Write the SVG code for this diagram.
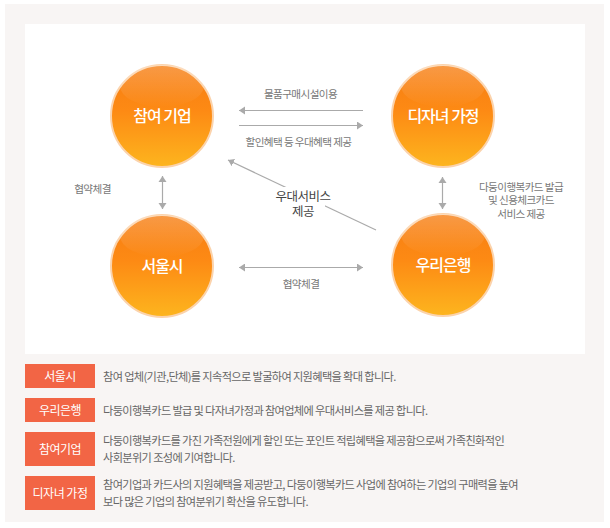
<svg xmlns="http://www.w3.org/2000/svg" width="610" height="528" viewBox="0 0 610 528">
<style>
text{font-family:"Noto Sans CJK KR","Noto Sans",sans-serif}
.c{fill:url(#orb);stroke:#fbd3ac;stroke-width:2}
.g{fill:url(#gl)}
.n{font-size:16px;font-weight:500;fill:#fff;text-anchor:middle;letter-spacing:-1px}
.l{font-size:10.6px;fill:#777;text-anchor:middle;letter-spacing:-.6px}
.m{font-size:12.5px;fill:#444;text-anchor:middle;letter-spacing:-.5px}
.t{font-size:12px;fill:#fff;text-anchor:middle;letter-spacing:-.5px}
.b{fill:#f26545}
.d{font-size:11.2px;fill:#666;letter-spacing:-.64px}
.a{stroke:#aaa;stroke-width:1.2;fill:none;marker-end:url(#h)}
.ab{stroke:#aaa;stroke-width:1.2;fill:none;marker-end:url(#h);marker-start:url(#hs)}
</style>
<defs>
<linearGradient id="orb" x1="0" y1="0" x2="0" y2="1"><stop offset="0" stop-color="#f67d12"/><stop offset=".45" stop-color="#fd8a14"/><stop offset="1" stop-color="#fdb51e"/></linearGradient>
<linearGradient id="gl" x1="0" y1="0" x2="0" y2="1"><stop offset="0" stop-color="#fff" stop-opacity=".22"/><stop offset="1" stop-color="#fff" stop-opacity="0"/></linearGradient>
<marker id="h" markerUnits="userSpaceOnUse" markerWidth="8" markerHeight="10" refX="6" refY="4" orient="auto"><path d="M0 0L6 4L0 8z" fill="#aaa"/></marker>
<marker id="hs" markerUnits="userSpaceOnUse" markerWidth="8" markerHeight="10" refX="0" refY="4" orient="auto"><path d="M6 0L0 4L6 8z" fill="#aaa"/></marker>
</defs>
<rect x="5" y="4" width="599" height="518" fill="#f8f5f4"/>
<rect x="25" y="24" width="560" height="330" fill="#fff"/>
<g id="connectors">
<path class="a" d="M363 110.500H239"/>
<path class="a" d="M239 125.500H363"/>
<path class="ab" d="M162.500 176V209"/>
<path class="ab" d="M442.500 177V209"/>
<path class="ab" d="M239 267.500H363"/>
<path class="a" d="M376 230L228 160"/>
</g>
<g id="node-company"><circle class="c" cx="162" cy="116" r="51"/><ellipse class="g" cx="162" cy="86" rx="42" ry="21"/><text class="n" x="162" y="122">참여 기업</text></g>
<g id="node-family"><circle class="c" cx="443" cy="116" r="51"/><ellipse class="g" cx="443" cy="86" rx="42" ry="21"/><text class="n" x="443" y="122">디자녀 가정</text></g>
<g id="node-seoul"><circle class="c" cx="162" cy="266" r="51"/><ellipse class="g" cx="162" cy="236" rx="42" ry="21"/><text class="n" x="162" y="272">서울시</text></g>
<g id="node-bank"><circle class="c" cx="443" cy="265" r="51"/><ellipse class="g" cx="443" cy="235" rx="42" ry="21"/><text class="n" x="443" y="271">우리은행</text></g>
<g id="labels">
<text class="l" x="300.500" y="98">물품구매시설이용</text>
<text class="l" x="298.500" y="146">할인혜택 등 우대혜택 제공</text>
<text class="l" x="92.500" y="193">협약체결</text>
<text class="l" x="301" y="288">협약체결</text>
<rect x="272" y="187" width="53" height="35" fill="#fff"/>
<rect x="277" y="187" width="54" height="17" fill="#fff"/>
<text class="m" x="303" y="201">우대서비스</text>
<text class="m" x="303" y="215.500">제공</text>
<text class="l" x="521" y="190.500">다둥이행복카드 발급</text>
<text class="l" x="521" y="204">및 신용체크카드</text>
<text class="l" x="521" y="217.500">서비스 제공</text>
</g>
<g id="legend-seoul"><rect class="b" x="25" y="364" width="70" height="24"/><text class="t" x="60" y="380.500">서울시</text><text class="d" x="103" y="381">참여 업체(기관,단체)를 지속적으로 발굴하여 지원혜택을 확대 합니다.</text></g>
<g id="legend-bank"><rect class="b" x="25" y="398" width="70" height="24"/><text class="t" x="60" y="414.500">우리은행</text><text class="d" x="103" y="415">다둥이행복카드 발급 및 다자녀가정과 참여업체에 우대서비스를 제공 합니다.</text></g>
<g id="legend-company"><rect class="b" x="25" y="432" width="70" height="34"/><text class="t" x="60" y="453.500">참여기업</text><text class="d" x="103" y="445">다둥이행복카드를 가진 가족전원에게 할인 또는 포인트 적립혜택을 제공함으로써 가족친화적인</text><text class="d" x="103" y="462">사회분위기 조성에 기여합니다.</text></g>
<g id="legend-family"><rect class="b" x="25" y="476" width="70" height="34"/><text class="t" x="60" y="497.500">디자녀 가정</text><text class="d" x="103" y="489">참여기업과 카드사의 지원혜택을 제공받고, 다둥이행복카드 사업에 참여하는 기업의 구매력을 높여</text><text class="d" x="103" y="506">보다 많은 기업의 참여분위기 확산을 유도합니다.</text></g>
</svg>
